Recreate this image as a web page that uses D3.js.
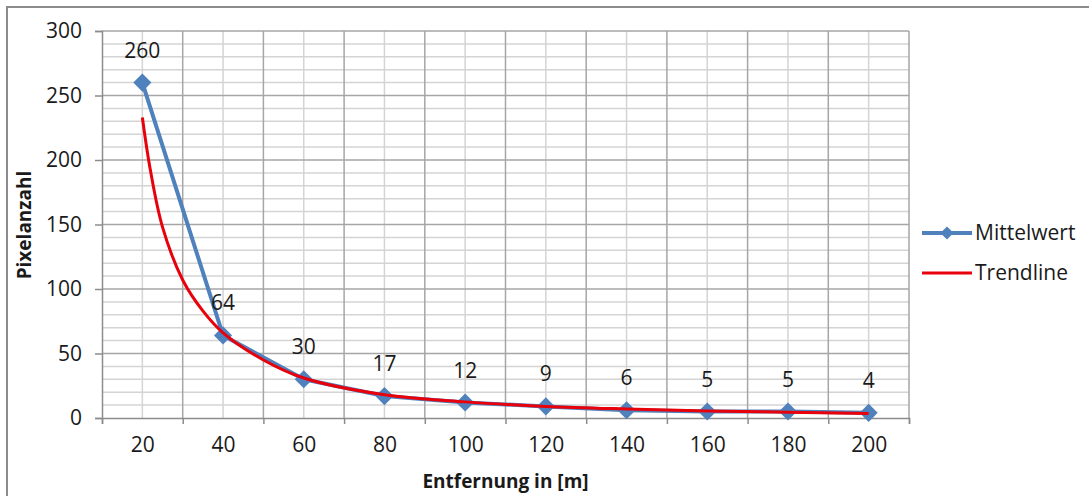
<!DOCTYPE html>
<html>
<head>
<meta charset="utf-8">
<script src="https://cdn.jsdelivr.net/npm/d3@7"></script>
<style>
  body { margin: 0; background: #fff; }
  svg { display: block; font-family: 'Open Sans', sans-serif; }
</style>
</head>
<body>
<svg id="chart" width="1089" height="496"></svg>
<script>
// distances (category labels) and averaged pixel counts
const categories = [20, 40, 60, 80, 100, 120, 140, 160, 180, 200];
const mittelwert = [260, 64, 30, 17, 12, 9, 6, 5, 5, 4];

// trendline, x in category index units (1 = "20")
const trendIdx = [1, 1.1, 1.25, 1.5, 1.75, 2, 2.5, 3, 4, 5, 6, 7, 8, 9, 10];
const trendVal = [233, 192, 148, 107, 83, 66, 45, 31, 18, 12.5, 9, 7, 5.5, 4.5, 3.5];

const yTicks = [0, 50, 100, 150, 200, 250, 300];

const svg = d3.select('#chart');
const margin = { top: 31, right: 180, bottom: 78, left: 102 };
const width = 1089, height = 496;
const fontSize = 21;

// outer frame
svg.append('rect')
  .attr('x', 7).attr('y', 7)
  .attr('width', width).attr('height', height)
  .attr('fill', 'none')
  .attr('stroke', '#8c8c8c')
  .attr('stroke-width', 2);

const x = d3.scaleLinear()
  .domain([0.5, categories.length + 0.5])
  .range([margin.left, width - margin.right]);

const y = d3.scaleLinear()
  .domain([0, 300])
  .range([height - margin.bottom, margin.top]);

const grid = svg.append('g');

// minor horizontal gridlines every 10
grid.selectAll('.hmin')
  .data(d3.range(10, 300, 10).filter(v => v % 50 !== 0))
  .enter().append('line')
  .attr('x1', x.range()[0]).attr('x2', x.range()[1])
  .attr('y1', d => y(d)).attr('y2', d => y(d))
  .attr('stroke', '#d4d4d4').attr('stroke-width', 1.5);

// minor vertical gridlines at category centres
grid.selectAll('.vmin')
  .data(d3.range(1, categories.length + 1))
  .enter().append('line')
  .attr('x1', d => x(d)).attr('x2', d => x(d))
  .attr('y1', y(0)).attr('y2', y(300))
  .attr('stroke', '#d4d4d4').attr('stroke-width', 1.5);

// major horizontal gridlines
grid.selectAll('.hmaj')
  .data(yTicks.slice(1))
  .enter().append('line')
  .attr('x1', x.range()[0]).attr('x2', x.range()[1])
  .attr('y1', d => y(d)).attr('y2', d => y(d))
  .attr('stroke', '#a6a6a6').attr('stroke-width', 1.5);

// major vertical gridlines at category boundaries
grid.selectAll('.vmaj')
  .data(d3.range(1.5, categories.length + 1, 1))
  .enter().append('line')
  .attr('x1', d => x(d)).attr('x2', d => x(d))
  .attr('y1', y(0)).attr('y2', y(300))
  .attr('stroke', '#a6a6a6').attr('stroke-width', 1.5);

// y axis
svg.append('g')
  .attr('transform', 'translate(' + margin.left + ',0)')
  .call(d3.axisLeft(y).tickValues(yTicks).tickSize(7).tickPadding(13));

// x axis: ticks on the boundaries, labels on the centres
svg.append('g')
  .attr('transform', 'translate(0,' + y(0) + ')')
  .call(d3.axisBottom(x).tickValues(d3.range(0.5, categories.length + 1, 1)).tickSize(6).tickFormat(''));

svg.append('g')
  .attr('transform', 'translate(0,' + y(0) + ')')
  .call(d3.axisBottom(x).tickValues(d3.range(1, categories.length + 1))
    .tickSize(0).tickPadding(19).tickFormat(d => categories[d - 1]))
  .call(g => g.select('.domain').remove());

svg.selectAll('.domain, .tick line')
  .attr('stroke', '#8c8c8c').attr('stroke-width', 1.5);
svg.selectAll('.tick text')
  .attr('font-size', fontSize).attr('fill', '#1a1a1a')
  .attr('font-family', "'Open Sans', sans-serif");

// axis titles
svg.append('text')
  .attr('x', (x.range()[0] + x.range()[1]) / 2)
  .attr('y', 488)
  .attr('text-anchor', 'middle')
  .attr('font-size', 19).attr('font-weight', 'bold').attr('fill', '#1a1a1a')
  .text('Entfernung in [m]');

svg.append('text')
  .attr('transform', 'translate(31,' + 225 + ') rotate(-90)')
  .attr('text-anchor', 'middle')
  .attr('font-size', 19).attr('font-weight', 'bold').attr('fill', '#1a1a1a')
  .text('Pixelanzahl');

// Mittelwert series
const blue = '#4f81bd';
const series = mittelwert.map((v, i) => ({ i: i + 1, v }));

svg.append('path')
  .datum(series)
  .attr('fill', 'none')
  .attr('stroke', blue)
  .attr('stroke-width', 4)
  .attr('stroke-linejoin', 'round')
  .attr('d', d3.line().x(d => x(d.i)).y(d => y(d.v)));

const diamond = d3.symbol().type(d3.symbolDiamond2).size(210);
svg.selectAll('.pt')
  .data(series)
  .enter().append('path')
  .attr('transform', d => 'translate(' + x(d.i) + ',' + y(d.v) + ')')
  .attr('d', diamond)
  .attr('fill', blue);

// trendline
const trend = trendIdx.map((t, k) => ({ i: t, v: trendVal[k] }));
svg.append('path')
  .datum(trend)
  .attr('fill', 'none')
  .attr('stroke', '#e8000b')
  .attr('stroke-width', 3)
  .attr('d', d3.line().curve(d3.curveCatmullRom).x(d => x(d.i)).y(d => y(d.v)));

// data labels
svg.selectAll('.lbl')
  .data(series)
  .enter().append('text')
  .attr('x', d => x(d.i))
  .attr('y', d => y(d.v) - 25)
  .attr('text-anchor', 'middle')
  .attr('font-size', fontSize).attr('fill', '#1a1a1a')
  .text(d => d.v);

// legend
const lg = svg.append('g').attr('transform', 'translate(922,233)');
lg.append('line').attr('x1', 0).attr('x2', 50).attr('stroke', blue).attr('stroke-width', 4);
lg.append('path').attr('transform', 'translate(25,0)').attr('d', d3.symbol().type(d3.symbolDiamond2).size(110)).attr('fill', blue);
lg.append('text').attr('x', 53).attr('y', 7).attr('font-size', fontSize).attr('fill', '#1a1a1a').text('Mittelwert');

lg.append('line').attr('x1', 0).attr('x2', 50).attr('y1', 40).attr('y2', 40).attr('stroke', '#e8000b').attr('stroke-width', 3);
lg.append('text').attr('x', 53).attr('y', 47).attr('font-size', fontSize).attr('fill', '#1a1a1a').text('Trendline');
</script>
</body>
</html>
